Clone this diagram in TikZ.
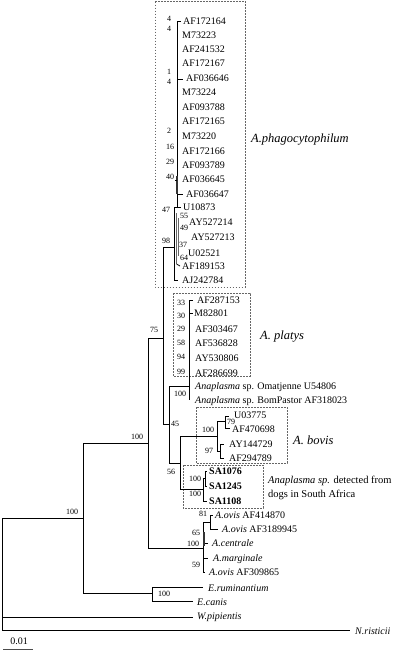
\documentclass[tikz,border=0pt]{standalone}
\usepackage{fontspec}
\setmainfont{Liberation Serif}
\begin{document}
\begin{tikzpicture}[x=1pt,y=-1pt,
  br/.style={line width=0.8pt},
  comb/.style={line width=1.4pt, black!80},
  thin/.style={line width=0.6pt, black!60},
  grpbox/.style={draw=black!60, dash pattern=on 1.6pt off 1.4pt, line width=0.6pt},
  tx/.style={anchor=west, inner sep=0pt, text height=6.6pt, text depth=0pt, font=\fontsize{10}{12}\selectfont},
  itx/.style={tx, font=\fontsize{10}{12}\selectfont\itshape},
  btx/.style={tx, font=\fontsize{10}{12}\selectfont\bfseries},
  bs/.style={inner sep=0pt, text height=5.4pt, text depth=0pt, font=\fontsize{8}{9}\selectfont},
  grp/.style={anchor=west, inner sep=0pt, text height=8pt, text depth=0pt, font=\fontsize{12.5}{14}\selectfont\itshape},
  sat/.style={anchor=west, inner sep=0pt, text height=7pt, text depth=0pt, font=\fontsize{10.5}{12}\selectfont}]

\useasboundingbox (0,0) rectangle (400,651);

% ---------- group boxes ----------
\draw[grpbox] (155,1.5) rectangle (245.5,287);
\draw[grpbox] (173,293) rectangle (250,376);
\draw[grpbox] (196,407) rectangle (287,463);
\draw[grpbox] (183,465) rectangle (263,508);

\node[grp] (gphago) at (251,138) {A.phagocytophilum};
\node[grp] (gplatys) at (260,335) {A. platys};
\node[grp] (gbovis) at (293,440) {A. bovis};
\node[sat] (gsa1) at (268,480) {\textit{Anaplasma sp.} detected from};
\node[sat] (gsa2) at (268,494) {dogs in South Africa};

% ---------- internal nodes ----------
\coordinate (r) at (2,574);
\coordinate (nA) at (83,518);
\coordinate (nB) at (148,443);
\coordinate (nE) at (152,593);
\coordinate (nC) at (163,338);
\coordinate (nOV) at (203,548);
\coordinate (nP) at (174,247);
\coordinate (nD) at (169,424);
\coordinate (nQ) at (189,386);
\coordinate (nF) at (180,463);
\coordinate (nBV) at (217,436);
\coordinate (n79) at (225,421);
\coordinate (n97) at (220,451);
\coordinate (nSA) at (203,489);
\coordinate (nSAi) at (205,478);
\coordinate (n81) at (210,522);

% tips (branch ends)
\coordinate (eW) at (193,617);
\coordinate (eN) at (350,630);
\coordinate (eErum) at (203,587);
\coordinate (eEcan) at (193,601);
\coordinate (eU03) at (229,416);
\coordinate (eAF47) at (230,428);
\coordinate (eAY14) at (224,444);
\coordinate (eAF29) at (224,458);
\coordinate (eSA1) at (207,471);
\coordinate (eSA2) at (207,486);
\coordinate (eSA3) at (207,501);
\coordinate (eOv1) at (213,515);
\coordinate (eOv2) at (218,529);
\coordinate (eCen) at (208,543);
\coordinate (eMar) at (208,558);
\coordinate (eOv3) at (205,572);

% ---------- branches ----------
\draw[br] (r) |- (nA);
\draw[br] (r) |- (eW);
\draw[br] (r) |- (eN);
\draw[br] (nA) |- (nB);
\draw[br] (nA) |- (nE);
\draw[br] (nE) |- (eErum);
\draw[br] (nE) |- (eEcan);
\draw[br] (nB) |- (nC);
\draw[br] (nB) |- (nOV);
\draw[br] (nC) |- (nP);
\draw[br] (nC) |- (nD);
\draw[br] (nD) |- (nQ);
\draw[br] (nD) |- (nF);
\draw[br] (nF) |- (nBV);
\draw[br] (nF) |- (nSA);
\draw[br] (nBV) |- (n79);
\draw[br] (nBV) |- (n97);
\draw[br] (n79) |- (eU03);
\draw[br] (n79) |- (eAF47);
\draw[br] (n97) |- (eAY14);
\draw[br] (n97) |- (eAF29);
\draw[br] (nSA) |- (nSAi);
\draw[br] (nSA) |- (eSA3);
\draw[br] (nSAi) |- (eSA1);
\draw[br] (nSAi) |- (eSA2);
\draw[br] (nOV) |- (n81);
\draw[br] (nOV) |- (eCen);
\draw[br] (nOV) |- (eMar);
\draw[br] (nOV) |- (eOv3);
\draw[br] (n81) |- (eOv1);
\draw[br] (n81) |- (eOv2);
\draw[comb] (204,532) -- (204,546);

% platys comb
\coordinate (qtop) at (189,300);
\coordinate (qbot) at (189,400);
\coordinate (ePl1) at (193,300);
\coordinate (ePl2) at (193,313);
\draw[br] (qtop) -- (qbot);
\draw[br] (qtop) -- (ePl1);
\draw[br] (nQ |- ePl2) -- (ePl2);

% phagocytophilum comb
\coordinate (v1top) at (177,21);
\coordinate (v1bot) at (177,207);
\coordinate (v2top) at (174,207);
\coordinate (v2bot) at (174,280);
\coordinate (eAJ) at (178,280);
\draw[br] (v1top) -- (v1bot) -- (v2top) -- (v2bot) -- (eAJ);
\draw[br] (v1top) -- (181,21);
\draw[br] (177,79) -- (183,79);
\draw[br] (177,194) -- (183,194);
\draw[br] (v1bot) -- (181,207);
\draw[comb] (177,176) -- (177,194);
\draw[br] (175,180) -- (177,180);
\draw[thin] (176.5,213) -- (176.5,264);
\draw[thin] (178.5,218) -- (178.5,256);
\draw[br] (176.5,264) -- (180,266);

% scale bar
\draw[line width=1pt, black!70] (3,649) -- (33,649);
\node[tx, anchor=center] (scl) at (19,641) {0.01};

% ---------- tip labels ----------
\node[tx] (t1) at (183,21) {AF172164};
\node[tx] (t2) at (182,35) {M73223};
\node[tx] (t3) at (182,49) {AF241532};
\node[tx] (t4) at (182,63) {AF172167};
\node[tx] (t5) at (186,78) {AF036646};
\node[tx] (t6) at (182,92) {M73224};
\node[tx] (t7) at (182,107) {AF093788};
\node[tx] (t8) at (182,121) {AF172165};
\node[tx] (t9) at (182,136) {M73220};
\node[tx] (t10) at (182,151) {AF172166};
\node[tx] (t11) at (182,165) {AF093789};
\node[tx] (t12) at (182,179) {AF036645};
\node[tx] (t13) at (186,194) {AF036647};
\node[tx] (t14) at (183,207) {U10873};
\node[tx] (t15) at (189,222) {AY527214};
\node[tx] (t16) at (191,237) {AY527213};
\node[tx] (t17) at (188,253) {U02521};
\node[tx] (t18) at (182,266) {AF189153};
\node[tx] (t19) at (182,280) {AJ242784};

\node[tx] (p1) at (197,300) {AF287153};
\node[tx] (p2) at (194,313) {M82801};
\node[tx] (p3) at (195,329) {AF303467};
\node[tx] (p4) at (195,343) {AF536828};
\node[tx] (p5) at (195,358) {AY530806};
\node[tx] (p6) at (195,373) {AF286699};
\node[tx] (an1) at (195,386) {\textit{Anaplasma} sp. Omatjenne U54806};
\node[tx] (an2) at (195,400) {\textit{Anaplasma} sp. BomPastor AF318023};

\node[tx] (b1) at (234,415) {U03775};
\node[tx] (b2) at (232,429) {AF470698};
\node[tx] (b3) at (229,444) {AY144729};
\node[tx] (b4) at (229,458) {AF294789};

\node[btx] (s1) at (209,471) {SA1076};
\node[btx] (s2) at (209,486) {SA1245};
\node[btx] (s3) at (209,501) {SA1108};

\node[tx] (o1) at (215,515) {\textit{A.ovis} AF414870};
\node[tx] (o2) at (222,529) {\textit{A.ovis} AF3189945};
\node[itx] (o3) at (212,543) {A.centrale};
\node[itx] (o4) at (213,558) {A.marginale};
\node[tx] (o5) at (209,572) {\textit{A.ovis} AF309865};

\node[itx] (er) at (208,588) {E.ruminantium};
\node[itx] (ec) at (197,602) {E.canis};
\node[itx] (wp) at (197,616) {W.pipientis};
\node[itx] (nr) at (355,631) {N.risticii};

% ---------- bootstrap values ----------
\node[bs] (bs1) at (169,19) {4};
\node[bs] (bs2) at (169,29) {4};
\node[bs] (bs3) at (169,72) {1};
\node[bs] (bs4) at (169,82) {4};
\node[bs] (bs5) at (169,131) {2};
\node[bs] (bs6) at (170,147) {16};
\node[bs] (bs7) at (170,162) {29};
\node[bs] (bs8) at (170,177) {40};
\node[bs] (bs9) at (166,210) {47};
\node[bs] (bs10) at (184,216) {55};
\node[bs] (bs11) at (184,228) {49};
\node[bs] (bs12) at (166,241) {98};
\node[bs] (bs13) at (183,245) {37};
\node[bs] (bs14) at (184,258) {64};

\node[bs] (bp1) at (181,303) {33};
\node[bs] (bp2) at (181,316) {30};
\node[bs] (bp3) at (181,329) {29};
\node[bs] (bp4) at (181,343) {58};
\node[bs] (bp5) at (181,357) {94};
\node[bs] (bp6) at (181,372) {99};
\node[bs] (bp7) at (180,394) {100};

\node[bs] (b75) at (154,330) {75};
\node[bs] (b45) at (175,424) {45};
\node[bs] (b56) at (171,472) {56};
\node[bs] (bbv) at (208,430) {100};
\node[bs] (b79) at (231,422) {79};
\node[bs] (b97) at (209,451) {97};
\node[bs] (bsa1) at (195,479) {100};
\node[bs] (bsa2) at (195,494) {100};
\node[bs] (b81) at (203,514) {81};
\node[bs] (b65) at (196,533) {65};
\node[bs] (bov) at (193,544) {100};
\node[bs] (b59) at (196,565) {59};
\node[bs] (bnb) at (137,437) {100};
\node[bs] (bna) at (72,512) {100};
\node[bs] (bne) at (164,594) {100};

\end{tikzpicture}
\end{document}
